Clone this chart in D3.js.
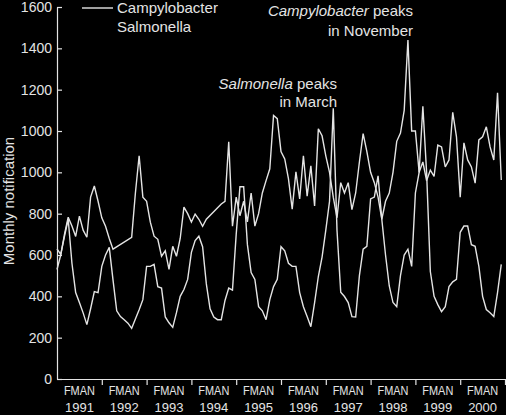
<!DOCTYPE html>
<html><head><meta charset="utf-8">
<script src="https://cdn.jsdelivr.net/npm/d3@7/dist/d3.min.js"></script>
<style>
html,body{margin:0;padding:0;background:#000;}
svg{display:block;background:#000;}
text{font-family:"Liberation Sans", Arial, Helvetica, sans-serif; fill:#e4e4e4;}
</style></head><body>
<svg id="c" width="506" height="415"></svg>
<script>
const years = ["1991","1992","1993","1994","1995","1996","1997","1998","1999","2000"];
const monthMarks = "FMAN";
const yTickValues = [0,200,400,600,800,1000,1200,1400,1600,1800];
const yTickLabels = ["0","200","400","600","800","1000","1000","1200","1400","1600"];
const seriesNames = ["Campylobacter","Salmonella"];

// monthly values Jan 1991 .. Dec 2000 (null = no point, line joins neighbours)
const campylobacter = [
  530, 600, 700, 783, 740, 690, 788, 720, 686, 880, 934, 860,
  780, 739, 680, 628, null, null, null, null, 686, 900, 1080, 880,
  860, 759, 691, 676, 594, 620, 530, 642, 594, 680, 832, 800,
  759, 798, 773, 739, 773, null, null, null, 847, 860, 1148, 739,
  880, 790, 860, 760, 900, 740, 800, 900, 960, 1017, 1275, 1260,
  1100, 1065, 968, 822, 1002, 871, 1080, 885, 1031, 837, 1211, 1177,
  1080, 1000, 880, 780, 950, 900, 950, 820, 900, 1050, 1187, 1100,
  1000, 950, 880, 773, 860, 900, 1000, 1150, 1190, 1300, 1640, 1200,
  1200, 1000, 1050, 960, 1011, 980, 1132, 1123, 1026, 1060, 1290, 1172,
  880, 1143, 1060, 1026, 948, 1157, 1172, 1220, 1123, 1060, 1385, 963
];
const salmonella = [
  630, 603, 690, 773, 560, 418, 370, 320, 263, 340, 423, 418,
  545, 600, 637, 480, 330, 302, 287, 270, 245, 290, 335, 384,
  545, 545, 555, 447, 440, 300, 272, 250, 321, 400, 433, 482,
  613, 670, 691, 640, 460, 340, 300, 287, 287, 380, 440, 430,
  700, 930, 930, 650, 515, 482, 350, 330, 287, 384, 447, 482,
  640, 620, 560, 545, 545, 418, 350, 302, 253, 370, 496, 590,
  720, 860, 1310, 720, 420, 399, 370, 302, 300, 500, 628, 642,
  871, 880, 983, 773, 600, 450, 370, 350, 500, 600, 628, 545,
  900, 1000, 1320, 1000, 520, 400, 360, 326, 350, 447, 470, 482,
  710, 740, 740, 650, 642, 545, 400, 336, 321, 302, 418, 555
];

const svg = d3.select("#c");
const fg = "#e4e4e4";
const x = d3.scaleLinear().domain([0, 120]).range([57, 505]);
const y = d3.scaleLinear().domain([0, 1800]).range([379, 7]);

// y axis
const yAxis = d3.axisLeft(y).tickValues(yTickValues)
  .tickSizeInner(-5).tickSizeOuter(0).tickPadding(5)
  .tickFormat((d, i) => yTickLabels[i]);
const gy = svg.append("g").attr("transform", "translate(57,0)").call(yAxis);
gy.select(".domain").attr("stroke", fg).attr("stroke-width", 1.2);
gy.selectAll(".tick line").attr("stroke", fg).attr("stroke-width", 1.2);
gy.selectAll(".tick text").attr("fill", fg).style("font-size", "14px")
  .style("font-family", '"Liberation Sans", Arial, sans-serif');

// x axis
const xAxis = d3.axisBottom(x).tickValues(d3.range(12, 121, 12))
  .tickSizeInner(6).tickSizeOuter(0).tickFormat("");
const gx = svg.append("g").attr("transform", "translate(0,379)").call(xAxis);
gx.select(".domain").attr("stroke", fg).attr("stroke-width", 1.2);
gx.selectAll(".tick line").attr("stroke", fg).attr("stroke-width", 1.2);

// month marks and year labels
years.forEach((yr, k) => {
  const cx = x(k * 12 + 6);
  svg.append("text").attr("x", cx).attr("y", 395).attr("text-anchor", "middle")
    .style("font-size", "13px").attr("textLength", 31).attr("lengthAdjust", "spacingAndGlyphs")
    .text(monthMarks);
  svg.append("text").attr("x", cx).attr("y", 412).attr("text-anchor", "middle")
    .style("font-size", "13px").text(yr);
});

// y title
svg.append("text").attr("transform", "translate(14,201) rotate(-90)")
  .attr("text-anchor", "middle").style("font-size", "15px").text("Monthly notification");

// lines
const line = d3.line().x(d => x(d.i)).y(d => y(d.v));
function pts(arr) { return arr.map((v, i) => ({ i: i, v: v })).filter(d => d.v !== null); }
[campylobacter, salmonella].forEach(arr => {
  svg.append("path").datum(pts(arr)).attr("d", line)
    .attr("fill", "none").attr("stroke", fg).attr("stroke-width", 1.4)
    .attr("stroke-linejoin", "miter").attr("stroke-miterlimit", 3);
});

// legend
svg.append("line").attr("x1", 82).attr("x2", 113).attr("y1", 8).attr("y2", 8)
  .attr("stroke", fg).attr("stroke-width", 1.4);
svg.append("text").attr("x", 117).attr("y", 13).style("font-size", "15px").text(seriesNames[0]);
svg.append("text").attr("x", 117).attr("y", 32).style("font-size", "15px").text(seriesNames[1]);

// annotations
function annot(xr, y1, y2, name, l2) {
  const t = svg.append("text").attr("x", xr).attr("y", y1).attr("text-anchor", "end").style("font-size", "15px");
  t.append("tspan").style("font-style", "italic").text(name);
  t.append("tspan").text(" peaks");
  svg.append("text").attr("x", xr).attr("y", y2).attr("text-anchor", "end").style("font-size", "15px").text(l2);
}
annot(413, 16, 36, seriesNames[0], "in November");
annot(337, 89, 107, seriesNames[1], "in March");
</script>
</body></html>
